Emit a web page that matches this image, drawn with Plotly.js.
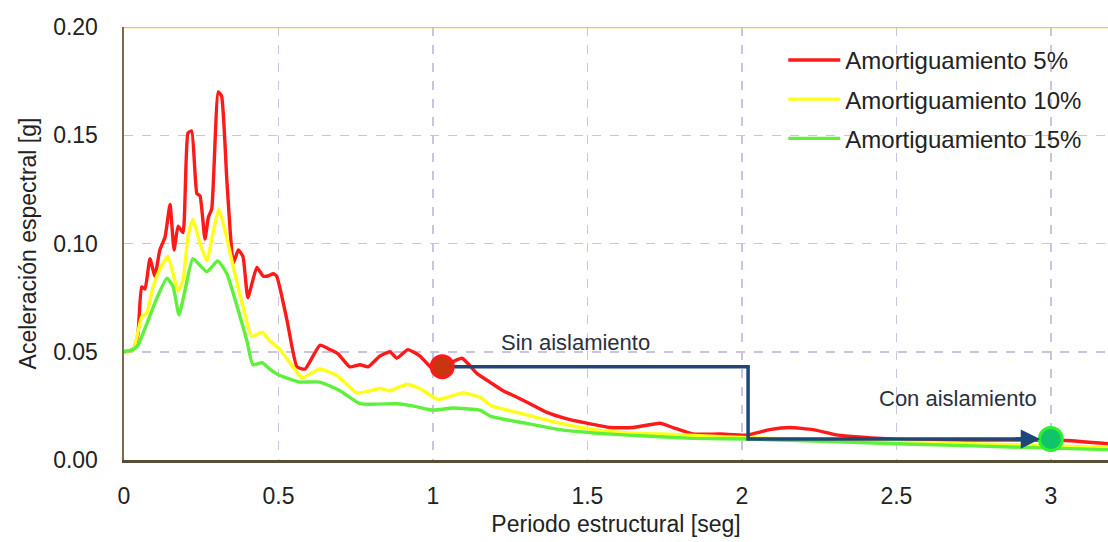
<!DOCTYPE html>
<html>
<head>
<meta charset="utf-8">
<script src="https://cdn.plot.ly/plotly-3.0.1.min.js"></script>
<style>
  html, body { margin: 0; padding: 0; background: #fff; }
  #chart { width: 1108px; height: 542px; }
</style>
</head>
<body>
<div id="chart"></div>
<script>
// ---- Data ----
const seriesNames = ["Amortiguamiento 5%", "Amortiguamiento 10%", "Amortiguamiento 15%"];

const periodo5 = [0, 0.03, 0.045, 0.057, 0.068, 0.084, 0.1, 0.116, 0.133, 0.149, 0.162, 0.175, 0.191, 0.207, 0.219, 0.236, 0.246, 0.262, 0.273, 0.284, 0.305, 0.316, 0.333, 0.354, 0.370, 0.385, 0.401, 0.430, 0.450, 0.466, 0.483, 0.494, 0.527, 0.560, 0.586, 0.634, 0.667, 0.693, 0.731, 0.764, 0.79, 0.828, 0.861, 0.883, 0.919, 0.958, 1.0, 1.03, 1.094, 1.142, 1.184, 1.227, 1.272, 1.314, 1.369, 1.434, 1.498, 1.573, 1.647, 1.735, 1.777, 1.841, 1.929, 2.016, 2.09, 2.155, 2.23, 2.31, 2.38, 2.5, 2.7, 2.9, 3.05, 3.185];
const acel5 = [0.05, 0.051, 0.058, 0.080, 0.079, 0.093, 0.085, 0.097, 0.103, 0.118, 0.097, 0.108, 0.105, 0.151, 0.152, 0.123, 0.122, 0.102, 0.112, 0.116, 0.170, 0.168, 0.129, 0.091, 0.097, 0.094, 0.075, 0.089, 0.085, 0.085, 0.086, 0.085, 0.065, 0.043, 0.042, 0.053, 0.051, 0.049, 0.043, 0.044, 0.043, 0.048, 0.050, 0.047, 0.051, 0.048, 0.042, 0.043, 0.047, 0.040, 0.036, 0.032, 0.029, 0.026, 0.022, 0.019, 0.017, 0.015, 0.015, 0.017, 0.015, 0.012, 0.012, 0.0115, 0.014, 0.015, 0.014, 0.0115, 0.0106, 0.0095, 0.0092, 0.0092, 0.0090, 0.0075];

const periodo10 = [0, 0.03, 0.057, 0.074, 0.094, 0.116, 0.142, 0.159, 0.175, 0.191, 0.207, 0.223, 0.246, 0.268, 0.288, 0.307, 0.327, 0.354, 0.385, 0.414, 0.447, 0.472, 0.505, 0.547, 0.576, 0.634, 0.689, 0.754, 0.828, 0.861, 0.916, 0.958, 1.016, 1.097, 1.152, 1.19, 1.30, 1.41, 1.52, 1.63, 1.74, 1.95, 2.1, 2.5, 3.0, 3.185];
const acel10 = [0.05, 0.051, 0.066, 0.068, 0.080, 0.088, 0.094, 0.086, 0.078, 0.083, 0.103, 0.111, 0.100, 0.092, 0.105, 0.116, 0.106, 0.089, 0.071, 0.057, 0.059, 0.055, 0.051, 0.043, 0.038, 0.042, 0.039, 0.031, 0.033, 0.032, 0.035, 0.033, 0.028, 0.031, 0.029, 0.025, 0.021, 0.017, 0.014, 0.0125, 0.012, 0.0106, 0.010, 0.0085, 0.0065, 0.0058];

const periodo15 = [0, 0.03, 0.045, 0.074, 0.107, 0.139, 0.159, 0.178, 0.197, 0.223, 0.268, 0.304, 0.333, 0.366, 0.398, 0.417, 0.447, 0.472, 0.505, 0.57, 0.634, 0.699, 0.764, 0.883, 0.935, 1.0, 1.065, 1.152, 1.19, 1.30, 1.41, 1.52, 1.63, 1.84, 2.02, 2.5, 3.0, 3.185];
const acel15 = [0.05, 0.051, 0.053, 0.063, 0.075, 0.084, 0.080, 0.067, 0.078, 0.093, 0.087, 0.092, 0.086, 0.071, 0.055, 0.044, 0.045, 0.042, 0.039, 0.036, 0.036, 0.032, 0.026, 0.026, 0.025, 0.023, 0.024, 0.023, 0.020, 0.017, 0.014, 0.0125, 0.0115, 0.010, 0.0097, 0.0075, 0.0055, 0.0048];

// Structure points: without isolation and with isolation
const sinAislamiento = { periodo: 1.03, acel: 0.0431, label: "Sin aislamiento" };
const conAislamiento = { periodo: 3.0, acel: 0.0097, label: "Con aislamiento" };
const periodoQuiebre = 2.02;   // where the arrow drops

const xTicks = [0, 0.5, 1, 1.5, 2, 2.5, 3];
const xTickText = ["0", "0.5", "1", "1.5", "2", "2.5", "3"];
const yTicks = [0, 0.05, 0.10, 0.15, 0.20];
const yTickText = ["0.00", "0.05", "0.10", "0.15", "0.20"];

const xTitle = "Periodo estructural [seg]";
const yTitle = "Aceleración espectral [g]";

// ---- Plot ----
const FONT = "'Liberation Sans', Arial, sans-serif";
const TXT = "#222222";

const lineStyle = (c) => ({ color: c, width: 3.4, shape: "spline", smoothing: 0.45 });

const traces = [
  { x: periodo5, y: acel5, name: seriesNames[0], mode: "lines", line: lineStyle("#ff1a1a"), legendgroup: "a" },
  { x: periodo10, y: acel10, name: seriesNames[1], mode: "lines", line: lineStyle("#ffff1a"), legendgroup: "b" },
  { x: periodo15, y: acel15, name: seriesNames[2], mode: "lines", line: lineStyle("#5ef03a"), legendgroup: "c" },
  // arrow path
  { x: [sinAislamiento.periodo, periodoQuiebre, periodoQuiebre, conAislamiento.periodo - 0.06],
    y: [sinAislamiento.acel, sinAislamiento.acel, conAislamiento.acel, conAislamiento.acel],
    mode: "lines", line: { color: "#1f4678", width: 3.5 }, showlegend: false, hoverinfo: "skip" },
  { x: [sinAislamiento.periodo], y: [sinAislamiento.acel], mode: "markers", showlegend: false,
    marker: { size: 22, color: "#c9350f", line: { color: "#ff1a1a", width: 3 } } },
  { x: [conAislamiento.periodo], y: [conAislamiento.acel], mode: "markers", showlegend: false,
    marker: { size: 23, color: "#0fc46a", line: { color: "#2ef02e", width: 3 } } }
];

const layout = {
  width: 1108, height: 542,
  margin: { l: 124, r: 0, t: 27, b: 82, autoexpand: false },
  paper_bgcolor: "#ffffff", plot_bgcolor: "#ffffff",
  font: { family: FONT, size: 23, color: TXT },
  showlegend: true,
  legend: {
    x: 0.67, y: 0.975, xanchor: "left", yanchor: "top",
    bgcolor: "rgba(0,0,0,0)", borderwidth: 0,
    font: { family: FONT, size: 24, color: TXT },
    itemwidth: 52, tracegroupgap: 5, traceorder: "grouped"
  },
  xaxis: {
    range: [0, 3.185], tickvals: xTicks, ticktext: xTickText,
    showgrid: true, gridcolor: "#cbc4e0", gridwidth: 1.5, griddash: "dash",
    zeroline: false, showline: true, linecolor: "#5a4e38", linewidth: 2.5,
    ticks: "", ticklabelstandoff: 14,
    tickfont: { family: FONT, size: 23, color: TXT },
    title: { text: xTitle, font: { family: FONT, size: 23, color: TXT }, standoff: 8 },
    fixedrange: true
  },
  yaxis: {
    range: [0, 0.2], tickvals: yTicks, ticktext: yTickText,
    showgrid: true, gridcolor: "#cbc4e0", gridwidth: 1.5, griddash: "dash",
    zeroline: false, showline: true, linecolor: "#7a6a48", linewidth: 2.5,
    ticks: "", ticklabelstandoff: 19,
    tickfont: { family: FONT, size: 23, color: TXT },
    title: { text: yTitle, font: { family: FONT, size: 23, color: TXT }, standoff: 10 },
    fixedrange: true
  },
  shapes: [
    { type: "line", xref: "paper", yref: "y", x0: 0, x1: 1, y0: 0.2, y1: 0.2,
      line: { color: "#f5c640", width: 2.5 }, layer: "above" }
  ],
  annotations: [
    { x: conAislamiento.periodo - 0.035, y: conAislamiento.acel, ax: conAislamiento.periodo - 0.12, ay: conAislamiento.acel,
      xref: "x", yref: "y", axref: "x", ayref: "y", text: "", showarrow: true,
      arrowhead: 2, arrowsize: 1.1, arrowwidth: 3.5, arrowcolor: "#1f4678" },
    { x: 1.46, y: 0.0545, xref: "x", yref: "y", text: sinAislamiento.label, showarrow: false,
      font: { family: FONT, size: 22, color: "#2a3040" } },
    { x: 2.7, y: 0.0285, xref: "x", yref: "y", text: conAislamiento.label, showarrow: false,
      font: { family: FONT, size: 22, color: "#2a3040" } }
  ]
};

Plotly.newPlot("chart", traces, layout, { displayModeBar: false, staticPlot: true });
</script>
</body>
</html>
